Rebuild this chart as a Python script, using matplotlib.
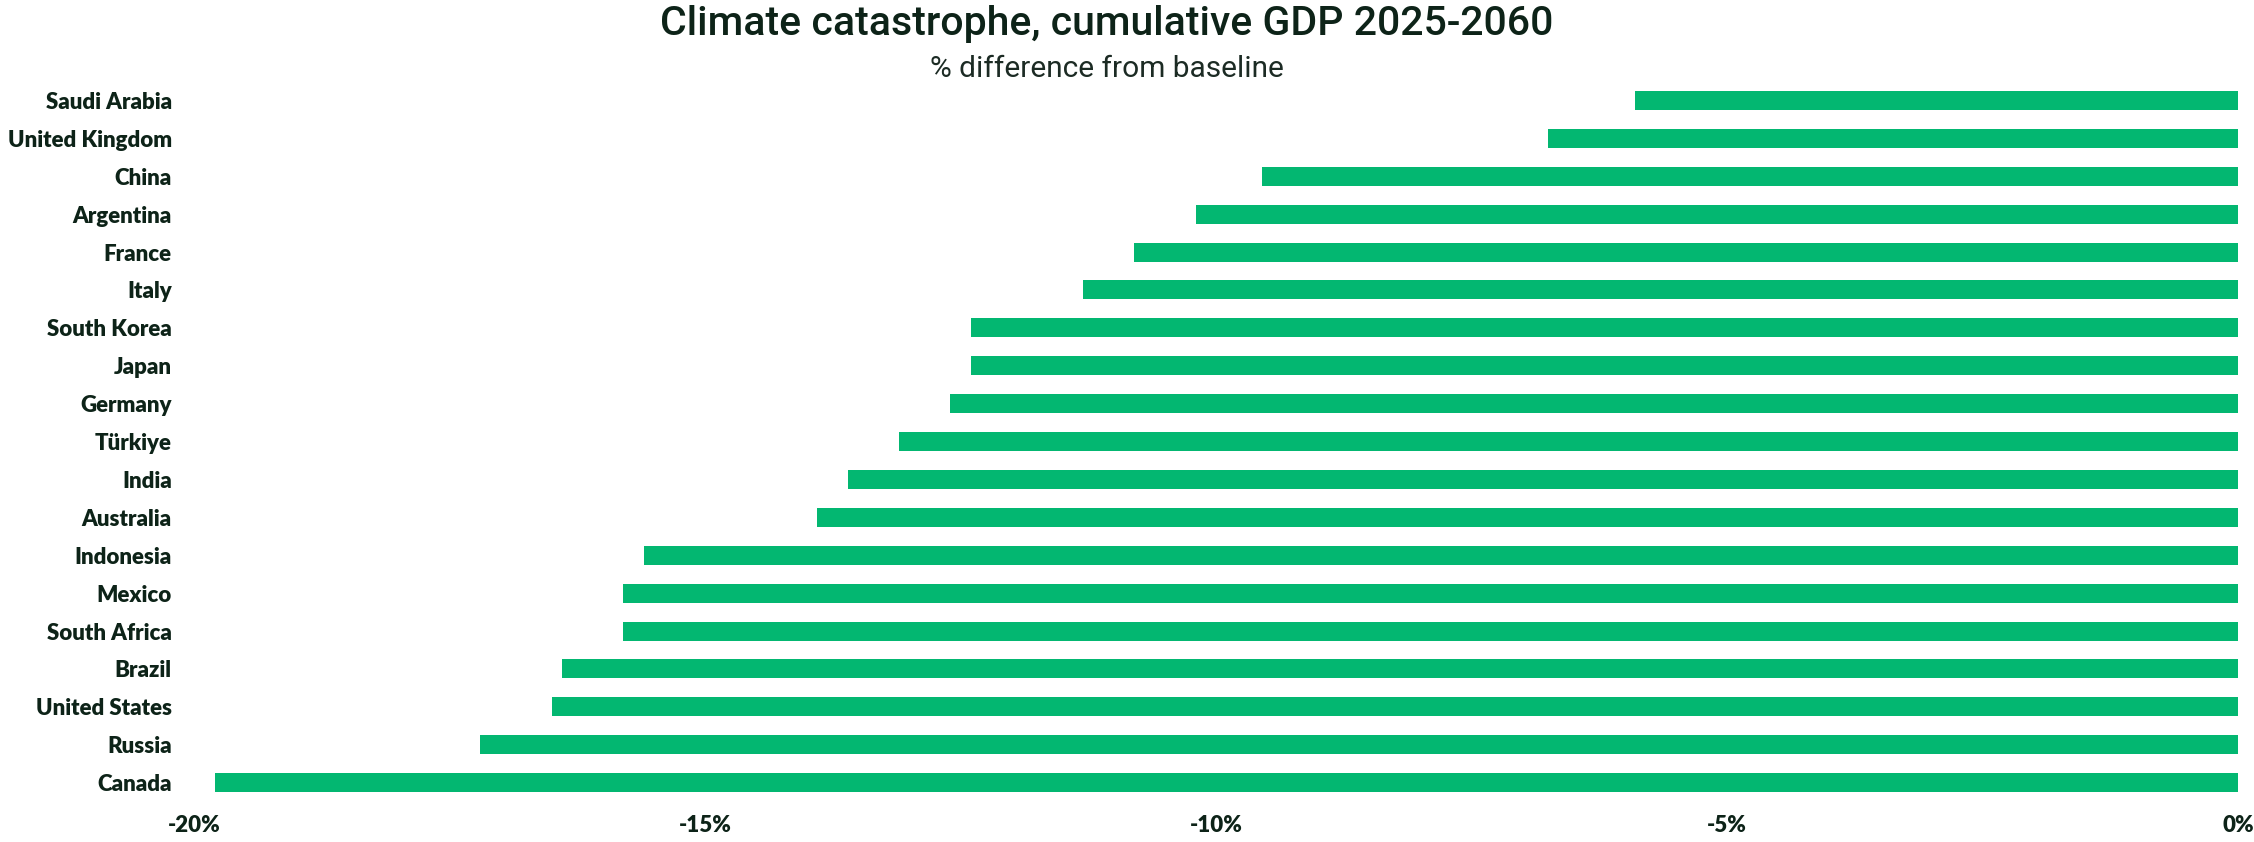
import matplotlib.pyplot as plt
import numpy as np

countries = ['Saudi Arabia', 'United Kingdom', 'China', 'Argentina', 'France', 'Italy',
             'South Korea', 'Japan', 'Germany', 'Türkiye', 'India', 'Australia',
             'Indonesia', 'Mexico', 'South Africa', 'Brazil', 'United States', 'Russia', 'Canada']
gdp_change = [-5.9, -6.75, -9.55, -10.2, -10.8, -11.3,
              -12.4, -12.4, -12.6, -13.1, -13.6, -13.9,
              -15.6, -15.8, -15.8, -16.4, -16.5, -17.2, -19.8]
xticks = [-20, -15, -10, -5, 0]

green = '#03b771'
ink = '#0d2318'

fig = plt.figure(figsize=(22.54, 8.42), dpi=100)
ax = fig.add_axes([0.0861, 0.048, 0.9929 - 0.0861, 0.9032 - 0.048])

y = np.arange(len(countries))
ax.barh(y, gdp_change, height=0.5, color=green)

ax.set_xlim(-20, 0)
ax.set_ylim(len(countries) - 0.5, -0.5)
ax.set_yticks(y)
ax.set_yticklabels(countries, fontsize=16, fontweight='heavy', color=ink, family='Lato')
ax.set_xticks(xticks)
ax.set_xticklabels([f'{t}%' for t in xticks], fontsize=16, fontweight='heavy', color=ink, family='Lato')
ax.tick_params(axis='y', length=0, pad=16)
ax.tick_params(axis='x', length=0, pad=10)
for s in ax.spines.values():
    s.set_visible(False)

fig.text(0.491, 0.971, 'Climate catastrophe, cumulative GDP 2025-2060', ha='center', va='center',
         fontsize=29.5, fontweight='medium', color=ink, family='Roboto', fontstretch='condensed')
fig.text(0.491, 0.918, '% difference from baseline', ha='center', va='center',
         fontsize=21.5, fontweight='normal', color='#1c2b24', family='Roboto')

fig.savefig('out.png', dpi=100)
